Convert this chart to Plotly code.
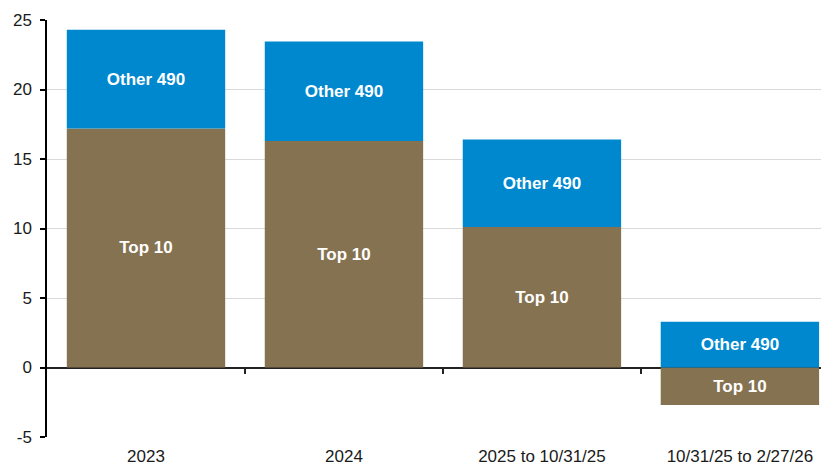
import plotly.graph_objects as go

categories = ["2023", "2024", "2025 to 10/31/25", "10/31/25 to 2/27/26"]
top10 = [17.2, 16.3, 10.1, -2.7]
other490 = [7.1, 7.15, 6.3, 3.3]
y_ticks = [-5, 0, 5, 10, 15, 20, 25]
y_tick_labels = ["-5", "0", "5", "10", "15", "20", "25"]

BLUE = "#0088CF"
BROWN = "#857250"
FONT = "Liberation Sans, Arial, sans-serif"

x_idx = list(range(len(categories)))

fig = go.Figure()
fig.add_trace(go.Bar(
    x=x_idx, y=top10, name="Top 10", marker=dict(color=BROWN, line=dict(width=0)),
    text=["Top 10"] * len(categories), textposition="inside",
    insidetextanchor="middle", textangle=0,
    textfont=dict(family=FONT, size=17, color="white", weight="bold"),
))
fig.add_trace(go.Bar(
    x=x_idx, y=other490, name="Other 490", marker=dict(color=BLUE, line=dict(width=0)),
    text=["Other 490"] * len(categories), textposition="inside",
    insidetextanchor="middle", textangle=0,
    textfont=dict(family=FONT, size=17, color="white", weight="bold"),
))
# helper trace to attach the zero-line tick axis
fig.add_trace(go.Scatter(x=[None], y=[None], xaxis="x2", showlegend=False, hoverinfo="skip"))

xr = [-0.5, 3.45]
fig.update_layout(
    width=821, height=457,
    margin=dict(l=39, r=0, t=12, b=28),
    barmode="relative", bargap=0.2,
    plot_bgcolor="white", paper_bgcolor="white",
    showlegend=False,
    font=dict(family=FONT, size=17, color="#1a1a1a"),
    uniformtext=dict(mode=False),
    xaxis=dict(
        range=xr, tickmode="array", tickvals=x_idx, ticktext=categories,
        showline=False, showgrid=False, ticks="", zeroline=False,
        tickfont=dict(size=17, color="#1a1a1a"), automargin=False,
        ticklabelstandoff=7,
    ),
    xaxis2=dict(
        overlaying="x", anchor="free", position=1/6, side="bottom",
        range=xr, tickmode="array", tickvals=[0.5, 1.5, 2.5],
        ticks="outside", ticklen=5, tickwidth=1.5, tickcolor="#222",
        showticklabels=False, showline=False, showgrid=False, zeroline=False,
        automargin=False,
    ),
    yaxis=dict(
        range=[-5, 25], tickmode="array", tickvals=y_ticks, ticktext=y_tick_labels,
        showgrid=True, gridcolor="#d9d9d9", gridwidth=1,
        zeroline=True, zerolinecolor="#222", zerolinewidth=1.5,
        showline=True, linecolor="black", linewidth=1.5,
        ticks="outside", ticklen=5, tickwidth=1.5, tickcolor="black",
        tickfont=dict(size=17, color="#1a1a1a"), automargin=False,
        ticklabelstandoff=5,
    ),
)

fig.write_html("out.html")
